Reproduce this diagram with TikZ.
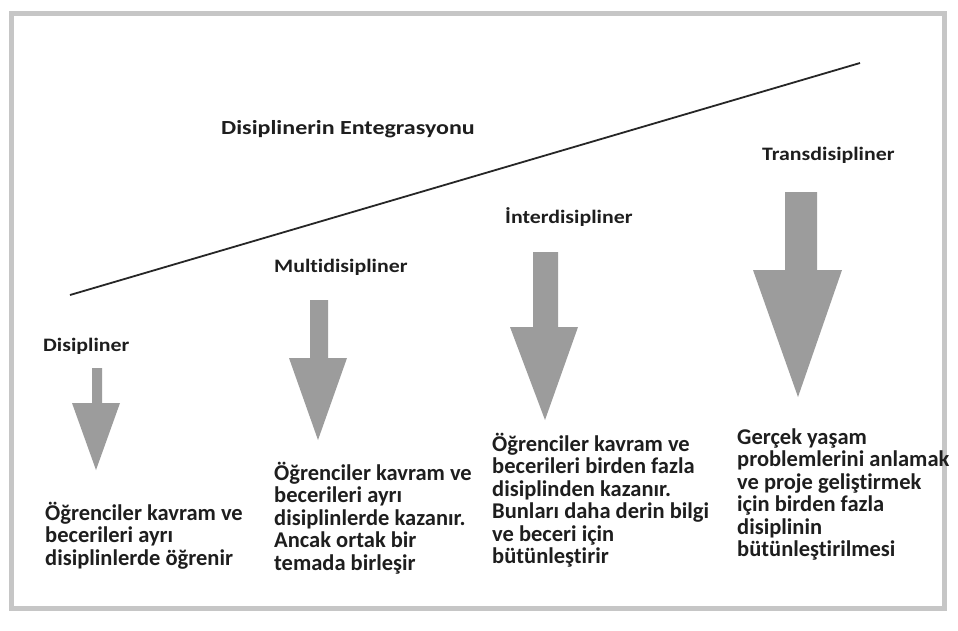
\documentclass[tikz,border=0pt]{standalone}
\usepackage{fontspec}
\setmainfont[Ligatures={NoCommon,NoRare}, Contextuals=NoAlternate]{Carlito}
\definecolor{framegray}{HTML}{C6C6C6}
\definecolor{arrowgray}{HTML}{9C9C9C}
\definecolor{textdark}{HTML}{1E1E1E}
\newcommand{\ttlbox}[2][1.15]{\scalebox{#1}[1]{#2}}
\begin{document}
\begin{tikzpicture}[x=1pt,y=-1pt,
  title/.style={anchor=base west, inner sep=0pt, font=\bfseries\fontsize{19}{22}\selectfont, text=textdark},
  body/.style={anchor=base west, inner sep=0pt, align=left, font=\bfseries\fontsize{22.5}{22.5}\selectfont, text=textdark},
  bigarrow/.style={fill=arrowgray, draw=none}]
\useasboundingbox (0,0) rectangle (958,630);
\fill[white] (0,0) rectangle (958,630);
\draw[framegray, line width=5pt] (11,13) rectangle (944,608);
% integration line
\coordinate (L1) at (70,295);
\coordinate (L2) at (860,63);
\draw[line width=1.8pt, black!85] (L1) -- (L2);
\node[title, font=\bfseries\fontsize{20}{22}\selectfont] (tint) at (221,134) {\ttlbox[1.2]{Disiplinerin Entegrasyonu}};
% titles
\node[title] (t1) at (43,351) {\ttlbox{Disipliner}};
\node[title] (t2) at (274,272) {\ttlbox{Multidisipliner}};
\node[title] (t3) at (505,223) {\ttlbox{İnterdisipliner}};
\node[title] (t4) at (762,160) {\ttlbox{Transdisipliner}};
% arrows
\fill[bigarrow] (92,368) -- (102,368) -- (102,403) -- (120,403) -- (96,470) -- (72,403) -- (92,403) -- cycle;
\fill[bigarrow] (310,300) -- (328,300) -- (328,358) -- (347,358) -- (318,440) -- (289,358) -- (310,358) -- cycle;
\fill[bigarrow] (533,252) -- (558,252) -- (558,327) -- (578,327) -- (545,420) -- (510,327) -- (533,327) -- cycle;
\fill[bigarrow] (785,192) -- (817,192) -- (817,270) -- (842,270) -- (798,397) -- (753,270) -- (785,270) -- cycle;
% body texts (anchored at the baseline of the last line)
\node[body] (b1) at (45,565) {Öğrenciler kavram ve\\becerileri ayrı\\disiplinlerde öğrenir};
\node[body] (b2) at (274,570) {Öğrenciler kavram ve\\becerileri ayrı\\disiplinlerde kazanır.\\Ancak ortak bir\\temada birleşir};
\node[body] (b3) at (492,563.5) {Öğrenciler kavram ve\\becerileri birden fazla\\disiplinden kazanır.\\Bunları daha derin bilgi\\ve beceri için\\bütünleştirir};
\node[body] (b4) at (737,556.5) {Gerçek yaşam\\problemlerini anlamak\\ve proje geliştirmek\\için birden fazla\\disiplinin\\bütünleştirilmesi};
\end{tikzpicture}
\end{document}
